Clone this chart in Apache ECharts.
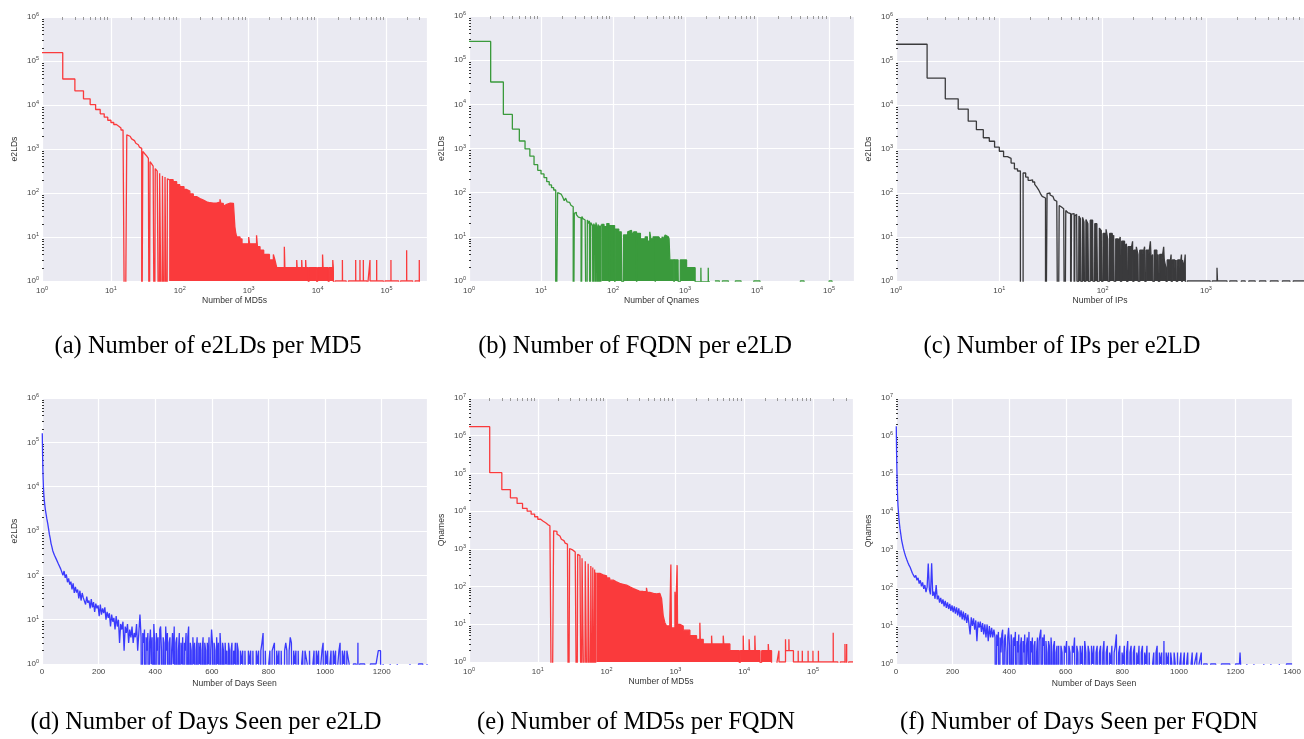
<!DOCTYPE html>
<html><head><meta charset="utf-8">
<script src="https://cdn.jsdelivr.net/npm/echarts@6/dist/echarts.min.js"></script>
<style>html,body{margin:0;padding:0;background:#fff}#c{width:1304px;height:739px}</style>
</head><body><div id="c"></div><script>
// ---------- (a) e2LDs per MD5 ----------
const aOutX = [1,2,3,4,5,6,7,8,9,10,11,12,13,14,15,16,17,18,19,20,21,22,23,24,25,26,27,28,29,30,31,32,33,34,35,36,37,38,39,40,41,42,43,44,45,46,47,48,49,50,51,52,53,54,55,56,57,58,59,60,61,62,63,64,65,66,67,68,69,70];
const aOutY = [155000,39000,21000,13800,10200,7900,6300,5300,4500,4000,3600,3300,3000,2700,2450,0,2100,1950,1800,1700,1550,1450,1350,1250,1180,1100,1030,0,880,830,780,740,700,650,610,0,515,490,460,430,410,390,0,360,345,330,315,300,290,0,280,270,262,255,0,245,240,235,230,0,230,225,220,215,0,210,207,204,202,200];
const aDenX = [70,80,90,100,115,126,140,157,175,196,220,245,275,306,340,383,395,428,450,480,540,600,630,650,670,748,800,1000,1030,1150,1300,1340,1460,1650,1820,2000,2280,2400,2550,3290,3350,4980,5050,5880,5950,6710,6800,7340,7500,9700,10000,11800,12000,14300,14700,16600,16900,17500];
const aDenY = [200,180,155,139,120,111,95,83,75,69,63,60,59,59,62,72,58,50,55,59,58,59,17,12,10,9,7,10,7,7,11,6,5,4,4,3,4,3,2,6,2,3,2,3,2,3,2,0,2,0,2,4,2,0,2,3,2,0];
const aTailX = [17500,18000,22900,23000,26000,28000,35700,35800,41200,41300,46100,46200,52000,54000,57600,57700,72000,72100,90000,95000,116000,116200,150000,160000,196000,196500,240000,260000,299000,299500,320000,387000];
const aTailY = [0,1,3,1,0,1,3,1,3,1,3,1,0,1,3,1,3,1,0,1,3,1,0,1,5,1,0,1,3,1,0,0];
// ---------- (b) FQDN per e2LD ----------
const bOutX = [1,2,3,4,5,6,7,8,9,10,11,12,13,14,15,16,17,18,19,20,21,22,23,24,25,26,27,28,29,30,31,32,33,34,35,36,37,38,39,40,41,42,43,44,45,46,47,48,49,50,51,52,53,54,55,56,57,58,59,60,61,62,63,64,65,66,67,68,69];
const bOutY = [265000,32000,5900,2750,1480,980,670,430,320,265,220,177,150,130,115,0,100,93,88,80,66,75,62,60,58,52,48,0,34,36,32,30,28,30,27,0,29,26,27,24,25,22,0,24,22,20,23,0,21,19,22,18,0,20,17,19,0,21,18,16,0,19,17,0,18,16,0,17,19];
const bDenX = [69,75,82,88,89,90,105,106,107,120,130,138,139,140,160,170,180,185,195,212,213,214,240,262,280,300,324,335,360,385,386,387,430,450,480,500,530,560,585,600,615,700,710,800,850,860,1050,1100,1380,1660,1760,2100,2210];
const bDenY = [19,17,20,16,0,18,14,0,15,13,14,12,0,11,13,14,15,11,13,10,0,12,9,9,10,8,13,9,10,8,0,10,11,9,10,9,11,10,11,9,3,0,3,2,0,3,2,2,0,2,0,2,0];
const bTailX = [2600,3000,3300,4000,5000,6000,9000,11000,40000,45000,100000,110000];
const bTailY = [1,0,1,0,1,0,1,0,1,0,1,0];
// ---------- (c) IPs per e2LD ----------
const cOutX = [1,2,3,4,5,6,7,8,9,10,11,12,13,14,15,16,17,18,19,20,21,22,23,24,25,26,27,28,29,30,31,32,33,34,35,36,37,38,39,40,41,42,43,44,45,46,47,48,49,50,51,52,53,54,55,56];
const cOutY = [240000,41000,13800,8100,4300,2750,1800,1500,1100,890,670,610,480,355,316,0,285,230,194,200,178,158,137,118,97,84,77,0,97,100,90,84,77,70,65,60,0,52,48,46,44,42,0,40,38,36,35,34,0,33,31,34,0,30,28,33];
const cDenX = [56,58,59,61,63,64,66,68,69,72,75,76,80,83,84,88,92,93,97,100,101,108,112,116,117,124,128,133,134,142,148,152,153,163,170,175,176,188,195,200,201,212,220,228,229,245,255,262,264,280,290,295,305,315,317,335,345,355,357,375,390,395,410,420,422,445,460,470,473,500,515,530,533,560,580,590,593,615,630,640];
const cDenY = [33,0,30,26,0,28,22,0,25,20,0,24,18,0,20,13,0,16,14,0,12,15,9,0,12,8,11,0,9,7,10,0,8,6,7,0,6,5,8,0,5,6,4,0,5,4,6,0,5,4,8,3,4,0,5,3,4,0,4,3,6,3,2,0,3,2,4,0,3,2,3,0,3,2,4,0,3,2,4,0];
const cTailX = [640,660,1000,1100,1150,1280,1295,1600,1700,2000,2200,2400,2600,3000,3300,3800,4200,5000,5500,6500,7000,8900];
const cTailY = [0,1,1,0,1,2,1,0,1,0,1,0,1,0,1,0,1,0,1,0,1,1];
// ---------- (d) Days seen per e2LD ----------
const dEarlyDays = [1,2,3,4,5,6,7,8,10,12,14,17,20,23,26,29,32,35,38,41,44,47,50];
const dEarlyCounts = [160000,55000,26000,15000,10000,7500,6000,5000,3800,3000,2500,1900,1500,1150,850,680,520,440,360,330,285,270,235];
const dBandStart = 54, dBandStep = 4;
const dBand = [230,180,190,140,150,100,125,88,105,70,85,62,72,48,66,40,55,41,48,30,45,27,40,31,34,22,33,24,27,18,29,19,25,15,23,18,21,12,22,13,18,14,19,10,15,11,14,7,13,9,11,6,12,7,10,3,8,6,9,2,7,5,8,3,6,4,7,3,5,4,8,2,5,13];
const dCombStart = 350, dCombStep = 3;
const dComb = [4,0,5,3,6,0,4,2,5,0,3,6,1,4,0,8,3,0,5,2,4,0,6,7,2,0,4,3,0,7,2,5,0,3,4,0,2,5,1,7,0,3,4,0,2,5,0,3,1,4,0,3,2,5,0,4,7,0,3,2,0,4,1,3,0,2,4,0,3,1,3,0,2,4,0,3,2,0,3,1,4,0,2,6,3,0,3,2,0,4,1,3,0,5,2,0,3,2,0,3,1,2,0,3,2,0,2,3,0,2,1,3,0,3];
const dFlatStart = 693, dFlatStep = 4;
const dFlat = [2,0,2,1,2,0,2,2,0,2,1,2,0,2,2,0,2,1,2,0,2,3,5,0,2,2,0,1,2,0,2,2,3,0,2,1,2,0,2,2,0,2,3,2,0,2,4,3,0,2,1,2,0,2,2,0,1,2,0,2,2,1,0,2,2,0,1,2,0,2,1,2,0,1,2,3,0,2,1,2,0,1,2,0,2,1,2,0,1,2,3,0,2,1,2,0,2,2,1,0];
const dTailDays = [1100,1110,1114,1116,1118,1122,1140,1150,1160,1180,1188,1196,1198,1205,1220,1230,1240,1255,1265,1300,1320,1330,1345,1350,1360];
const dTailCounts = [1,1,0,3,0,1,1,0,1,1,2,2,0,1,0,1,0,1,0,1,0,1,1,0,1];
// ---------- (e) MD5s per FQDN ----------
const eOutX = aOutX;
const eOutY = [1740000,105000,37000,22400,16000,11800,10000,8300,7100,6100,5400,4900,4400,4100,3700,0,3000,2900,2450,2200,2000,1800,1650,1530,1420,1330,1250,0,1020,980,940,900,860,830,800,770,0,720,690,660,630,600,0,560,540,520,500,0,470,455,440,425,0,400,390,375,365,0,350,340,330,0,320,310,300,0,285,0,235,0];
const eDenX = [71,80,89,100,111,125,139,155,174,195,218,245,272,300,340,380,390,425,480,532,595,630,665,703,745,830,860,875,985,1000,1060,1075,1160,1300,1625,1800,2030,2270,2300,2540,3000,3360,3400,4960,5050,6200,7330,8500,8800,9690,9800,11800,12000,14300,14500,17000,18000,22400,22700,25000];
const eDenY = [223,205,193,170,148,133,121,115,109,98,89,82,76,74,73,93,70,66,64,66,70,48,17,11,9,14,385,8,73,8,370,10,9,7,5,5,4,11,4,3,3,5,3,5,3,2,2,0,2,5,2,4,2,5,2,0,2,3,2,0];
const eTailX = [25000,30000,32000,32100,39900,40100,44700,45000,52000,61000,61200,70000,70200,85000,85200,100000,100200,120000,120200,140000,197000,197500,230000,250000,292000,293000,309000,310000,330000,382000];
const eTailY = [0,1,2,1,4,2,4,2,1,2,1,2,1,2,1,2,1,2,1,1,6,1,0,1,3,0,3,0,1,1];
// ---------- (f) Days seen per FQDN ----------
const fEarlyDays = [1,2,3,4,5,6,7,8,10,12,14,17,20,23,26,30,34,38,42,46,50];
const fEarlyCounts = [1800000,400000,150000,70000,35000,22000,15000,12000,7000,5000,3700,2600,1800,1400,1100,850,680,560,470,400,350];
const fBandStart = 54, fBandStep = 4;
const fBand = [330,245,260,190,215,160,185,130,160,110,140,95,120,78,105,440,90,68,450,62,80,52,120,50,63,41,55,38,50,33,46,30,42,28,38,25,35,23,33,21,31,19,29,17,26,15,24,14,22,12,20,11,6,17,10,16,8,14,4,13,9,13,7,12,6,11,5,11,4,10,5,9,5,8,5];
const fCombStart = 353, fCombStep = 3;
const fComb = [0,6,3,7,0,5,2,6,8,0,4,6,2,0,5,9,3,0,6,4,0,5,3,7,0,4,2,6,0,3,5,0,4,2,6,0,3,5,1,7,0,4,2,5,0,3,4,0,2,5,0,4,6,8,0,5,3,6,0,4,2,0,4,3,0,5,2,0,3,4,0,2,3,0,3];
const fFlatStart = 579, fFlatStep = 4;
const fFlat = [0,3,2,0,3,2,4,0,3,2,0,3,2,5,0,3,2,0,3,1,3,0,4,2,0,3,2,0,3,1,3,0,2,3,0,2,3,0,2,4,0,2,3,0,2,1,3,0,2,3,6,0,2,3,0,2,1,3,0,2,4,0,2,3,0,2,3,0,2,1,3,0,2,3,0,2,1,3,0,2,2,0,1,2,0,2,3,0,2,1,2,0,4,0,2,1,2,0,2,1,0,2,1,0,2,0,1,2,0,1,2,0,1,2,2,0,1,2,0,1,1,2,0,1,1,2,0,1,1];
const fTailDays = [1100,1110,1112,1130,1140,1150,1180,1190,1200,1214,1216,1218,1230,1240,1255,1265,1285,1300,1315,1325,1345,1355,1370,1380,1400];
const fTailCounts = [1,0,1,1,0,1,1,0,1,1,2,1,0,1,0,1,0,1,0,1,0,1,0,1,1];

// ---------- helpers ----------
const FLOOR = 1e-3; // empty bins fall below the log axis
function pts(X, Y) { return X.map((x, i) => [x, Y[i] > 0 ? Y[i] : FLOOR]); }
function seg(start, step, vals) { return vals.map((v, i) => [start + i * step, v > 0 ? v : FLOOR]); }
const dLine = pts(dEarlyDays, dEarlyCounts).concat(seg(dBandStart, dBandStep, dBand), seg(dCombStart, dCombStep, dComb), seg(dFlatStart, dFlatStep, dFlat), pts(dTailDays, dTailCounts));
const fLine = pts(fEarlyDays, fEarlyCounts).concat(seg(fBandStart, fBandStep, fBand), seg(fCombStart, fCombStep, fComb), seg(fFlatStart, fFlatStep, fFlat), pts(fTailDays, fTailCounts));

const RED = '#FA3A3C', GREEN = '#3A9A3C', DARK = '#3A3A3C', BLUE = '#3A3AFC';
const P = [
  {g:{left:42,top:17,width:385,height:264}, log:true, xmin:1, xmax:387000, ymax:1e6, xn:'Number of MD5s', yn:'e2LDs', c:RED, cap:'(a) Number of e2LDs per MD5', cx:208, cy:347,
   parts:[['step',pts(aOutX,aOutY)],['fill',pts(aDenX,aDenY)],['step',pts(aTailX,aTailY)]]},
  {g:{left:469,top:16,width:385,height:265}, log:true, xmin:1, xmax:222000, ymax:1e6, xn:'Number of Qnames', yn:'e2LDs', c:GREEN, cap:'(b) Number of FQDN per e2LD', cx:635, cy:347,
   parts:[['step',pts(bOutX,bOutY)],['fill',pts(bDenX,bDenY)],['step',pts(bTailX,bTailY)]]},
  {g:{left:896,top:17,width:408,height:264}, log:true, xmin:1, xmax:8900, ymax:1e6, xn:'Number of IPs', yn:'e2LDs', c:DARK, cap:'(c) Number of IPs per e2LD', cx:1062, cy:347,
   parts:[['step',pts(cOutX,cOutY)],['fill',pts(cDenX,cDenY)],['step',pts(cTailX,cTailY)]]},
  {g:{left:42,top:398,width:385,height:266}, log:false, xmin:0, xmax:1360, ymax:1e6, xn:'Number of Days Seen', yn:'e2LDs', c:BLUE, cap:'(d) Number of Days Seen per e2LD', cx:206, cy:723,
   parts:[['line',dLine]]},
  {g:{left:469,top:398,width:384,height:264}, log:true, xmin:1, xmax:382000, ymax:1e7, xn:'Number of MD5s', yn:'Qnames', c:RED, cap:'(e) Number of MD5s per FQDN', cx:636, cy:723,
   parts:[['step',pts(eOutX,eOutY)],['fill',pts(eDenX,eDenY)],['step',pts(eTailX,eTailY)]]},
  {g:{left:896,top:398,width:400,height:266}, log:false, xmin:0, xmax:1400, ymax:1e7, xn:'Number of Days Seen', yn:'Qnames', c:BLUE, cap:'(f) Number of Days Seen per FQDN', cx:1079, cy:723,
   parts:[['line',fLine]]}
];

const powFmt = v => '10{e|' + Math.round(Math.log10(v)) + '}';
const plainFmt = v => String(Math.round(v));
const labelRich = {e: {fontSize: 5.5, color: '#444', padding: [0, 0, 5, 0], fontFamily: 'Liberation Sans'}};
const grid = [], xAxis = [], yAxis = [], series = [], graphic = [];
P.forEach((p, i) => {
  grid.push(Object.assign({show: true, backgroundColor: '#EAEAF2', borderWidth: 0}, p.g));
  const xi = xAxis.length;
  const xa = {
    gridIndex: i, type: p.log ? 'log' : 'value', position: 'bottom', min: p.xmin, max: p.xmax,
    axisLine: {show: false}, axisTick: {show: false},
    splitLine: {show: true, lineStyle: {color: '#ffffff', width: 1.2}},
    axisLabel: {fontSize: 8, color: '#444', margin: 4, showMaxLabel: p.xmax === 1400, fontFamily: 'Liberation Sans'},
    name: p.xn, nameLocation: 'middle', nameGap: 15,
    nameTextStyle: {fontSize: 8.6, color: '#333', fontFamily: 'Liberation Sans'}
  };
  if (p.log) { xa.logBase = 10; xa.axisLabel.formatter = powFmt; xa.axisLabel.rich = labelRich; }
  else { xa.interval = 200; xa.axisLabel.formatter = plainFmt; }
  xAxis.push(xa);
  if (p.log) {
    xAxis.push({gridIndex: i, type: 'log', logBase: 10, position: 'top', min: p.xmin, max: p.xmax,
      axisLine: {show: false}, axisTick: {show: false, inside: true}, axisLabel: {show: false}, splitLine: {show: false},
      minorTick: {show: true, splitNumber: 9, length: 3, lineStyle: {color: '#999', width: 1}}});
  }
  yAxis.push({
    gridIndex: i, type: 'log', logBase: 10, min: 1, max: p.ymax,
    axisLine: {show: false}, axisTick: {show: false, inside: true},
    minorTick: {show: true, splitNumber: 9, length: 2, lineStyle: {color: '#333', width: 1}},
    splitLine: {show: true, lineStyle: {color: '#ffffff', width: 1.2}},
    axisLabel: {fontSize: 8, color: '#444', margin: 3, formatter: powFmt, rich: labelRich, fontFamily: 'Liberation Sans'},
    name: p.yn, nameLocation: 'middle', nameGap: 23,
    nameTextStyle: {fontSize: 8.6, color: '#333', fontFamily: 'Liberation Sans'}
  });
  p.parts.forEach(([kind, data]) => {
    const s = {type: 'line', xAxisIndex: xi, yAxisIndex: i, data: data, symbol: 'none', showSymbol: false,
      lineStyle: {color: p.c, width: 1.3}, itemStyle: {color: p.c}, clip: true, silent: true, animation: false};
    if (kind !== 'line') s.step = 'end';
    if (kind === 'fill') s.areaStyle = {color: p.c, opacity: 1, origin: 'start'};
    series.push(s);
  });
  graphic.push({type: 'text', x: p.cx, y: p.cy, silent: true,
    style: {text: p.cap, fill: '#000', font: '24.5px "Liberation Serif"', align: 'center', verticalAlign: 'middle'}});
});

const chart = echarts.init(document.getElementById('c'), null, {renderer: 'canvas'});
chart.setOption({animation: false, textStyle: {fontFamily: 'Liberation Sans'}, grid, xAxis, yAxis, series, graphic});
</script></body></html>
